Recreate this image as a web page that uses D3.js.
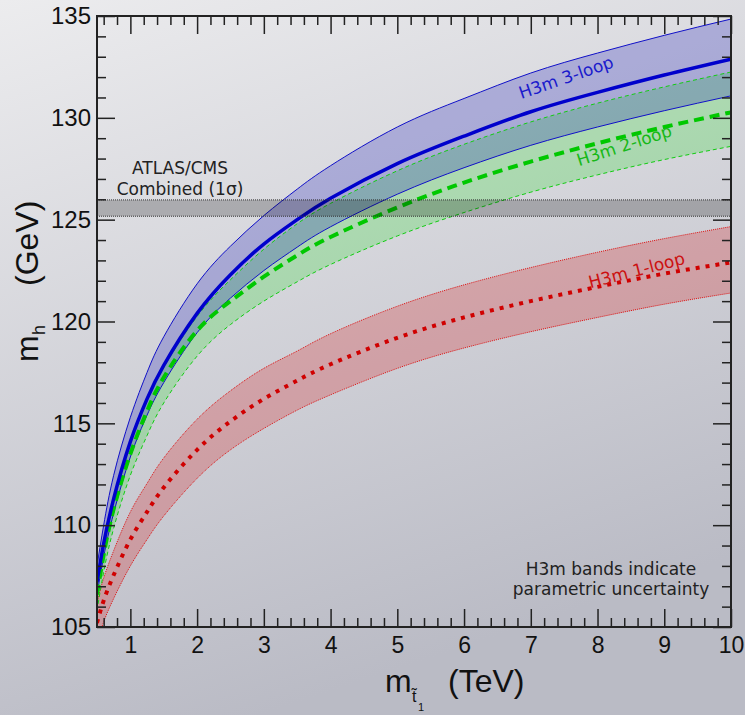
<!DOCTYPE html>
<html>
<head>
<meta charset="utf-8">
<script src="https://cdn.jsdelivr.net/npm/d3@7"></script>
<style>
  body { margin: 0; }
  svg { display: block; }
</style>
</head>
<body>
<div id="chart"></div>
<script>
// stop mass (TeV) and Higgs mass (GeV)
var mStop    = [0.5, 0.6, 0.75, 1, 1.25, 1.5, 2, 2.5, 3, 3.5, 4, 5, 6, 7, 8, 9, 10];
var loop3Mid = [107.2, 109.1, 111.3, 114.1, 116.2, 117.85, 120.4, 122.3, 123.8, 125.0, 126.05, 127.75, 129.1, 130.3, 131.25, 132.1, 132.88];
var loop3Hi  = [108.0, 110.0, 112.45, 115.3, 117.5, 119.25, 121.85, 123.7, 125.2, 126.5, 127.65, 129.55, 130.95, 132.2, 133.18, 134.05, 134.85];
var loop3Lo  = [106.6, 108.45, 110.6, 113.35, 115.4, 117.0, 119.45, 121.15, 122.5, 123.65, 124.65, 126.25, 127.55, 128.65, 129.55, 130.35, 131.08];
var loop2Mid = [106.6, 108.55, 110.8, 113.5, 115.6, 117.25, 119.55, 121.0, 122.2, 123.25, 124.15, 125.6, 126.82, 127.85, 128.75, 129.55, 130.27];
var loop2Hi  = [107.2, 109.1, 111.3, 114.05, 116.1, 117.75, 120.25, 122.05, 123.55, 124.8, 125.8, 127.4, 128.7, 129.8, 130.72, 131.52, 132.25];
var loop2Lo  = [105.8, 107.7, 109.85, 112.45, 114.4, 116.0, 118.3, 119.85, 121.0, 121.95, 122.8, 124.2, 125.35, 126.35, 127.2, 127.95, 128.6];
var loop1Mid = [105.2, 106.3, 107.55, 109.3, 110.65, 111.85, 113.7, 115.1, 116.2, 117.1, 117.9, 119.2, 120.2, 121.0, 121.7, 122.35, 122.9];
var loop1Hi  = [106.2, 107.4, 108.75, 110.65, 112.05, 113.3, 115.2, 116.6, 117.7, 118.55, 119.4, 120.75, 121.8, 122.65, 123.4, 124.07, 124.66];
var loop1Lo  = [104.2, 105.25, 106.4, 108.0, 109.3, 110.45, 112.3, 113.7, 114.75, 115.65, 116.4, 117.7, 118.7, 119.5, 120.2, 120.85, 121.4];
var lhcBand  = [125.17, 125.97];
var xMajor = [1, 2, 3, 4, 5, 6, 7, 8, 9, 10];
var yMajor = [105, 110, 115, 120, 125, 130, 135];

var W = 745, H = 715;
var x = d3.scaleLinear().domain([0.5, 10]).range([97, 731]);
var y = d3.scaleLinear().domain([105, 135]).range([627, 16]);

var svg = d3.select("#chart").append("svg")
    .attr("width", W)
    .attr("height", H);

var defs = svg.append("defs");
var grad = defs.append("linearGradient")
    .attr("id", "bg")
    .attr("x1", 0).attr("y1", 0).attr("x2", 0.35).attr("y2", 1);
grad.append("stop").attr("offset", "0%").attr("stop-color", "#ececee");
grad.append("stop").attr("offset", "100%").attr("stop-color", "#babbc5");
defs.append("clipPath").attr("id", "plot")
    .append("rect")
    .attr("x", x(0.5)).attr("y", y(135))
    .attr("width", x(10) - x(0.5)).attr("height", y(105) - y(135));

svg.append("rect")
    .attr("width", W).attr("height", H)
    .attr("fill", "url(#bg)");

var plot = svg.append("g").attr("clip-path", "url(#plot)");

function band(lo, hi) {
    return d3.area()
        .x(function (d, i) { return x(mStop[i]) })
        .y0(function (d, i) { return y(lo[i]) })
        .y1(function (d, i) { return y(hi[i]) })
        .curve(d3.curveNatural)(mStop);
}
function line(vals) {
    return d3.line()
        .x(function (d, i) { return x(mStop[i]) })
        .y(function (d, i) { return y(vals[i]) })
        .curve(d3.curveNatural)(mStop);
}

// bands
plot.append("path").attr("d", band(loop1Lo, loop1Hi)).attr("fill", "rgb(220,0,0)").attr("fill-opacity", 0.22);
plot.append("path").attr("d", band(loop2Lo, loop2Hi)).attr("fill", "rgb(0,225,0)").attr("fill-opacity", 0.2);
plot.append("path").attr("d", band(loop3Lo, loop3Hi)).attr("fill", "rgb(0,0,180)").attr("fill-opacity", 0.22);

// band edges
[loop1Lo, loop1Hi].forEach(function (v) {
    plot.append("path").attr("d", line(v)).attr("fill", "none")
        .attr("stroke", "#dd1111").attr("stroke-width", 1).attr("stroke-dasharray", "1,1");
});
[loop2Lo, loop2Hi].forEach(function (v) {
    plot.append("path").attr("d", line(v)).attr("fill", "none")
        .attr("stroke", "#11cc11").attr("stroke-width", 1).attr("stroke-dasharray", "4,3");
});
[loop3Lo, loop3Hi].forEach(function (v) {
    plot.append("path").attr("d", line(v)).attr("fill", "none")
        .attr("stroke", "#1010c8").attr("stroke-width", 1);
});

// central lines
plot.append("path").attr("d", line(loop1Mid)).attr("fill", "none")
    .attr("stroke", "#d00000").attr("stroke-width", 4).attr("stroke-dasharray", "4,6");
plot.append("path").attr("d", line(loop2Mid)).attr("fill", "none")
    .attr("stroke", "#00c800").attr("stroke-width", 4).attr("stroke-dasharray", "10,6");
plot.append("path").attr("d", line(loop3Mid)).attr("fill", "none")
    .attr("stroke", "#0000cc").attr("stroke-width", 3.5);

// ATLAS/CMS band
plot.append("rect")
    .attr("x", x(0.5)).attr("width", x(10) - x(0.5))
    .attr("y", y(lhcBand[1])).attr("height", y(lhcBand[0]) - y(lhcBand[1]))
    .attr("fill", "#000").attr("fill-opacity", 0.22);
lhcBand.forEach(function (v) {
    plot.append("line")
        .attr("x1", x(0.5)).attr("x2", x(10))
        .attr("y1", y(v)).attr("y2", y(v))
        .attr("stroke", "#333").attr("stroke-width", 1).attr("stroke-dasharray", "1,1");
});

// axes, ticks inward on all four sides
var xMinor = d3.range(0.6, 10, 0.2).filter(function (v) { return Math.abs(v - Math.round(v)) > 0.01 });
var yMinor = d3.range(106, 135, 1).filter(function (v) { return v % 5 != 0 });

function styleAxis(g) {
    g.select(".domain").remove();
    g.selectAll(".tick line").attr("stroke", "#222").attr("stroke-width", 1.5);
    g.selectAll("text")
        .attr("font-family", "'Liberation Sans', Arial, sans-serif")
        .attr("fill", "#111");
}

svg.append("g").attr("transform", "translate(0," + y(105) + ")")
    .call(d3.axisBottom(x).tickValues(xMajor).tickSize(-18).tickPadding(10).tickFormat(d3.format("d")))
    .call(styleAxis).selectAll("text").attr("font-size", 23);
svg.append("g").attr("transform", "translate(0," + y(105) + ")")
    .call(d3.axisBottom(x).tickValues(xMinor).tickSize(-9).tickFormat(""))
    .call(styleAxis);
svg.append("g").attr("transform", "translate(0," + y(135) + ")")
    .call(d3.axisTop(x).tickValues(xMajor).tickSize(-18).tickFormat(""))
    .call(styleAxis);
svg.append("g").attr("transform", "translate(0," + y(135) + ")")
    .call(d3.axisTop(x).tickValues(xMinor).tickSize(-9).tickFormat(""))
    .call(styleAxis);
svg.append("g").attr("transform", "translate(" + x(0.5) + ",0)")
    .call(d3.axisLeft(y).tickValues(yMajor).tickSize(-18).tickPadding(6).tickFormat(d3.format("d")))
    .call(styleAxis).selectAll("text").attr("font-size", 24);
svg.append("g").attr("transform", "translate(" + x(0.5) + ",0)")
    .call(d3.axisLeft(y).tickValues(yMinor).tickSize(-9).tickFormat(""))
    .call(styleAxis);
svg.append("g").attr("transform", "translate(" + x(10) + ",0)")
    .call(d3.axisRight(y).tickValues(yMajor).tickSize(-18).tickFormat(""))
    .call(styleAxis);
svg.append("g").attr("transform", "translate(" + x(10) + ",0)")
    .call(d3.axisRight(y).tickValues(yMinor).tickSize(-9).tickFormat(""))
    .call(styleAxis);

svg.append("rect")
    .attr("x", x(0.5)).attr("y", y(135))
    .attr("width", x(10) - x(0.5)).attr("height", y(105) - y(135))
    .attr("fill", "none").attr("stroke", "#222").attr("stroke-width", 2);

// axis titles
var sans = "'Liberation Sans', Arial, sans-serif";
var xt = svg.append("g").attr("font-family", sans).attr("fill", "#111");
xt.append("text").attr("x", 385).attr("y", 692).attr("font-size", 32).text("m");
xt.append("text").attr("x", 412).attr("y", 702).attr("font-size", 16).text("t\u0303");
xt.append("text").attr("x", 418).attr("y", 711).attr("font-size", 11).text("1");
xt.append("text").attr("x", 448).attr("y", 692).attr("font-size", 32).text("(TeV)");

var yt = svg.append("g").attr("font-family", sans).attr("fill", "#111")
    .attr("transform", "translate(38,362) rotate(-90)");
yt.append("text").attr("x", 0).attr("y", 0).attr("font-size", 32).text("m");
yt.append("text").attr("x", 27).attr("y", 7).attr("font-size", 18).text("h");
yt.append("text").attr("x", 76).attr("y", 0).attr("font-size", 32).text("(GeV)");

// annotations
var dv = "'DejaVu Sans', sans-serif";
var notes = [
    { text: "ATLAS/CMS", x: 180, y: 174 },
    { text: "Combined (1\u03c3)", x: 180, y: 195 },
    { text: "H3m bands indicate", x: 611, y: 575 },
    { text: "parametric uncertainty", x: 611, y: 595 }
];
svg.selectAll(".note")
    .data(notes)
    .enter()
    .append("text")
    .attr("class", "note")
    .attr("x", function (d) { return d.x })
    .attr("y", function (d) { return d.y })
    .attr("text-anchor", "middle")
    .attr("font-family", dv)
    .attr("font-size", 17)
    .attr("fill", "#222")
    .text(function (d) { return d.text });

var curveLabels = [
    { text: "H3m 3-loop", cx: 568, cy: 83, angle: -19, color: "#1a1acc" },
    { text: "H3m 2-loop", cx: 626, cy: 151, angle: -18, color: "#18b818" },
    { text: "H3m 1-loop", cx: 638, cy: 276, angle: -14.5, color: "#cc1111" }
];
svg.selectAll(".clabel")
    .data(curveLabels)
    .enter()
    .append("text")
    .attr("class", "clabel")
    .attr("transform", function (d) { return "translate(" + d.cx + "," + d.cy + ") rotate(" + d.angle + ")" })
    .attr("text-anchor", "middle")
    .attr("font-family", dv)
    .attr("font-size", 17)
    .attr("fill", function (d) { return d.color })
    .text(function (d) { return d.text });
</script>
</body>
</html>
